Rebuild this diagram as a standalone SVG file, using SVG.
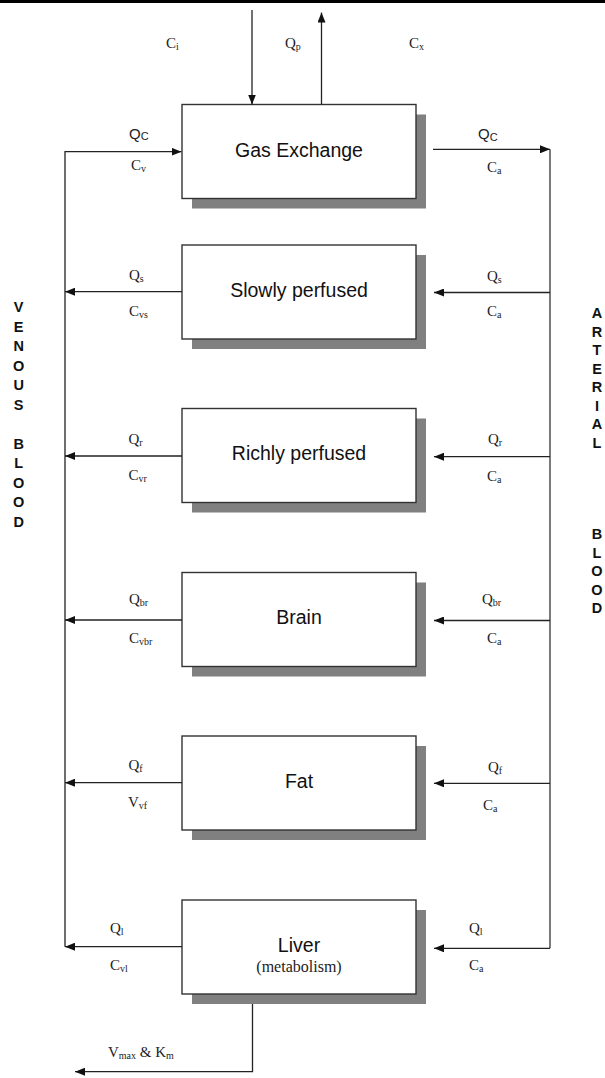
<svg xmlns="http://www.w3.org/2000/svg" width="605" height="1078" viewBox="0 0 605 1078">
<defs>
<marker id="ah" markerWidth="10" markerHeight="8" refX="10" refY="4" orient="auto" markerUnits="userSpaceOnUse">
<path d="M0,0 L10,4 L0,8 z" fill="#111"/>
</marker>
<style>
.box{fill:#fff;stroke:#333;stroke-width:1.4}
.sh{fill:#808080}
.ln{fill:none;stroke:#333;stroke-width:1.3}
.ar{fill:none;stroke:#222;stroke-width:1.3;marker-end:url(#ah)}
.nt{font-family:"Liberation Sans",Arial,sans-serif;font-size:19.5px;fill:#111;text-anchor:middle}
.tm{font-family:"Liberation Serif","Times New Roman",serif;font-size:15px;fill:#222}
.sb{font-size:10px}
.ss{font-family:"Liberation Sans",Arial,sans-serif;font-size:15px;fill:#222}
.vl{font-family:"Liberation Sans",Arial,sans-serif;font-size:14.5px;font-weight:bold;fill:#111;text-anchor:middle}
</style>
</defs>
<rect x="0" y="0" width="605" height="3" fill="#000"/>

<g id="gas">
<rect class="sh" x="192" y="114.5" width="234" height="94"/>
<rect class="box" x="182" y="104.5" width="234" height="94"/>
<text class="nt" x="299" y="157">Gas Exchange</text>
</g>
<g id="slowly">
<rect class="sh" x="192" y="255" width="234" height="94"/>
<rect class="box" x="182" y="245" width="234" height="94"/>
<text class="nt" x="299" y="297">Slowly perfused</text>
</g>
<g id="richly">
<rect class="sh" x="192" y="418.5" width="234" height="94"/>
<rect class="box" x="182" y="408.5" width="234" height="94"/>
<text class="nt" x="299" y="460">Richly perfused</text>
</g>
<g id="brain">
<rect class="sh" x="192" y="582.5" width="234" height="94"/>
<rect class="box" x="182" y="572.5" width="234" height="94"/>
<text class="nt" x="299" y="623.5">Brain</text>
</g>
<g id="fat">
<rect class="sh" x="192" y="746" width="234" height="94"/>
<rect class="box" x="182" y="736" width="234" height="94"/>
<text class="nt" x="299" y="788">Fat</text>
</g>
<g id="liver">
<rect class="sh" x="192" y="910" width="234" height="94"/>
<rect class="box" x="182" y="900" width="234" height="94"/>
<text class="nt" x="299" y="951.5">Liver</text>
<text class="tm" x="299" y="971.5" text-anchor="middle" style="font-size:16px">(metabolism)</text>
</g>

<g id="connectors">
<line class="ar" x1="252" y1="10" x2="252" y2="104.5"/>
<line class="ar" x1="321.5" y1="104.5" x2="321.5" y2="12.5"/>
<path class="ar" d="M65,946.7 V151.7 H181.5"/>
<line class="ar" x1="433" y1="149.3" x2="550" y2="149.3"/>
<line class="ln" x1="550" y1="149.3" x2="550" y2="948.3"/>
<line class="ar" x1="182" y1="291.7" x2="65" y2="291.7"/>
<line class="ar" x1="550" y1="292.5" x2="434" y2="292.5"/>
<line class="ar" x1="182" y1="456" x2="65" y2="456"/>
<line class="ar" x1="550" y1="456.7" x2="434" y2="456.7"/>
<line class="ar" x1="182" y1="620" x2="65" y2="620"/>
<line class="ar" x1="550" y1="620.5" x2="434" y2="620.5"/>
<line class="ar" x1="182" y1="782.7" x2="65" y2="782.7"/>
<line class="ar" x1="550" y1="783.3" x2="434" y2="783.3"/>
<line class="ar" x1="182" y1="946.7" x2="65" y2="946.7"/>
<line class="ar" x1="550" y1="948.3" x2="434" y2="948.3"/>
<path class="ar" d="M252.5,1004 V1071.7 H75"/>
</g>

<g id="labels">
<text class="tm" x="166" y="48">C<tspan class="sb" dy="2">i</tspan></text>
<text class="tm" x="285" y="48">Q<tspan class="sb" dy="2">p</tspan></text>
<text class="tm" x="409" y="48">C<tspan class="sb" dy="2">x</tspan></text>

<text class="ss" x="129" y="138.5">Q<tspan style="font-size:11px" dy="1.5">C</tspan></text>
<text class="tm" x="131" y="170">C<tspan class="sb" dy="2">v</tspan></text>
<text class="ss" x="478" y="139">Q<tspan style="font-size:11px" dy="1.5">C</tspan></text>
<text class="tm" x="487" y="172">C<tspan class="sb" dy="2">a</tspan></text>

<text class="tm" x="129" y="280">Q<tspan class="sb" dy="2">s</tspan></text>
<text class="tm" x="129" y="316">C<tspan class="sb" dy="2">vs</tspan></text>
<text class="tm" x="487" y="281">Q<tspan class="sb" dy="2">s</tspan></text>
<text class="tm" x="487" y="316">C<tspan class="sb" dy="2">a</tspan></text>

<text class="tm" x="128.5" y="443.5">Q<tspan class="sb" dy="2">r</tspan></text>
<text class="tm" x="128.5" y="480">C<tspan class="sb" dy="2">vr</tspan></text>
<text class="tm" x="488" y="444">Q<tspan class="sb" dy="2">r</tspan></text>
<text class="tm" x="487" y="481">C<tspan class="sb" dy="2">a</tspan></text>

<text class="tm" x="129" y="604">Q<tspan class="sb" dy="2">br</tspan></text>
<text class="tm" x="129" y="643">C<tspan class="sb" dy="2">vbr</tspan></text>
<text class="tm" x="482" y="604">Q<tspan class="sb" dy="2">br</tspan></text>
<text class="tm" x="487" y="643">C<tspan class="sb" dy="2">a</tspan></text>

<text class="tm" x="128.5" y="770">Q<tspan class="sb" dy="2">f</tspan></text>
<text class="tm" x="128" y="807">V<tspan class="sb" dy="2">vf</tspan></text>
<text class="tm" x="488" y="772">Q<tspan class="sb" dy="2">f</tspan></text>
<text class="tm" x="483" y="810">C<tspan class="sb" dy="2">a</tspan></text>

<text class="tm" x="110" y="933">Q<tspan class="sb" dy="2">l</tspan></text>
<text class="tm" x="110" y="970">C<tspan class="sb" dy="2">vl</tspan></text>
<text class="tm" x="469" y="933">Q<tspan class="sb" dy="2">l</tspan></text>
<text class="tm" x="469" y="970">C<tspan class="sb" dy="2">a</tspan></text>

<text class="tm" x="108" y="1057">V<tspan class="sb" dy="2">max</tspan><tspan dy="-2"> &amp; K</tspan><tspan class="sb" dy="2">m</tspan></text>
</g>

<g id="venous">
<text class="vl" x="18.7" y="312">V</text>
<text class="vl" x="18.7" y="331.5">E</text>
<text class="vl" x="18.7" y="351">N</text>
<text class="vl" x="18.7" y="370.5">O</text>
<text class="vl" x="18.7" y="390">U</text>
<text class="vl" x="18.7" y="409.5">S</text>
<text class="vl" x="18.7" y="448.5">B</text>
<text class="vl" x="18.7" y="468">L</text>
<text class="vl" x="18.7" y="487.5">O</text>
<text class="vl" x="18.7" y="507">O</text>
<text class="vl" x="18.7" y="526.5">D</text>
</g>
<g id="arterial">
<text class="vl" x="597" y="318">A</text>
<text class="vl" x="597" y="336.5">R</text>
<text class="vl" x="597" y="355">T</text>
<text class="vl" x="597" y="373.5">E</text>
<text class="vl" x="597" y="392">R</text>
<text class="vl" x="597" y="410.5">I</text>
<text class="vl" x="597" y="429">A</text>
<text class="vl" x="597" y="447.5">L</text>
<text class="vl" x="597" y="539">B</text>
<text class="vl" x="597" y="557.5">L</text>
<text class="vl" x="597" y="576">O</text>
<text class="vl" x="597" y="594.5">O</text>
<text class="vl" x="597" y="613">D</text>
</g>
</svg>
